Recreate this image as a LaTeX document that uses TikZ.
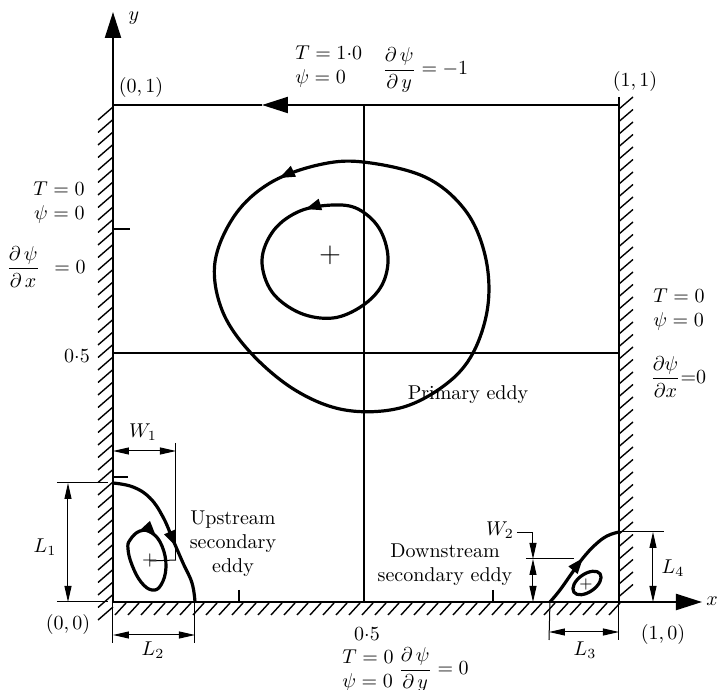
\documentclass[tikz,border=0pt]{standalone}
\usepackage{amsmath}
\usepackage{amssymb}
\usetikzlibrary{
    arrows.meta,
    decorations.markings
}
\tikzset{
    >={Triangle[length=8pt,width=3.5pt]},
    pared/.style={line width=1.1pt},
    rayado/.style={line width=0.7pt},
    media/.style={line width=0.6pt},
    linea/.style={line width=1.6pt, line join=round},
    cota/.style={line width=0.5pt},
    ejeflecha/.style={-{Triangle[length=13pt,width=8pt]}},
    flujo/.style={
        postaction={decorate},
        decoration={markings,
            mark=at position #1 with {\arrow{Triangle[length=8pt,width=5.5pt]}}}
    },
    etiqueta/.style={inner sep=1pt}
}

\begin{document}
\begin{tikzpicture}[
    x=0.5pt,
    y=-0.5pt
]
    \useasboundingbox (0,0) rectangle (720,690);

    % Esquinas y puntos
    \coordinate (o)      at (113,602);
    \coordinate (c01)    at (113,105);
    \coordinate (c11)    at (619,105);
    \coordinate (c10)    at (619,602);
    \coordinate (c11a)   at (619,97);
    \coordinate (ytip)   at (113,12);
    \coordinate (xtip)   at (702,602);
    \coordinate (tflech) at (262,105);
    \coordinate (mtop)   at (364,105);
    \coordinate (mbot)   at (364,602);
    \coordinate (mleft)  at (113,353);
    \coordinate (mright) at (619,353);

    % Rayado de las paredes
    \foreach \y in {107,119.5,...,616}
        \draw[rayado] (113,\y) -- ++(-15,13);
    \foreach \y in {109,121.5,...,603}
        \draw[rayado] (619,\y) -- ++(14,-12);
    \foreach \x in {126,139,...,620}
        \draw[rayado] (\x,603) -- ++(-11,12);

    % Paredes y ejes
    \draw[pared, ejeflecha] (o) -- (ytip);
    \draw[pared, ejeflecha] (o) -- (xtip);
    \draw[pared] (c11a) -- (c10);
    \draw[pared, ejeflecha] (c11) -- (tflech);
    \draw[pared] (tflech) -- (c01);

    % Lineas medias y marcas
    \draw[media] (mtop) -- (mbot);
    \draw[media] (mleft) -- (mright);
    \coordinate (t1a) at (113,229); \coordinate (t1b) at (130,229);
    \coordinate (t2a) at (239,590); \coordinate (t2b) at (239,602);
    \coordinate (t3a) at (493,590); \coordinate (t3b) at (493,602);
    \draw[media] (t1a) -- (t1b);
    \draw[media] (t2a) -- (t2b);
    \draw[media] (t3a) -- (t3b);

    % Remolino primario
    \draw[linea, flujo=0.05] plot[smooth cycle, tension=0.6] coordinates {
        (363,162) (318,165) (270,183) (235,215) (215,262)
        (222,310) (250,352) (295,390) (345,410) (400,408)
        (445,385) (473,353) (488,305) (485,255) (465,210)
        (425,177)};
    \draw[linea, flujo=0.075] plot[smooth cycle, tension=0.6] coordinates {
        (358,209) (333,205) (300,211) (274,230) (262,260)
        (272,292) (300,313) (333,318) (362,306) (382,285)
        (388,257) (379,228)};
    \node[etiqueta] (cp) at (330,255) {\Large$+$};

    % Remolino secundario aguas arriba
    \coordinate (u0) at (113,483);
    \coordinate (u1) at (195,602);
    \draw[linea, flujo=0.62] plot[smooth, tension=0.7] coordinates {
        (u0) (133,487) (150,498) (163,517) (173,540)
        (183,563) (192,583) (u1)};
    \draw[linea, flujo=0.12] plot[smooth cycle, tension=0.7] coordinates {
        (130,540) (140,531) (152,533) (162,546) (166,567)
        (161,585) (152,590) (141,582) (132,565) (128,549)};
    \node[etiqueta] (cu) at (150,561) {$+$};
    \coordinate (ud1) at (113,477); \coordinate (ud2) at (128,477);
    \draw[media] (ud1) -- (ud2);

    % Remolino secundario aguas abajo
    \coordinate (d0) at (550,602);
    \coordinate (d1) at (619,532);
    \draw[linea, flujo=0.55] plot[smooth, tension=0.7] coordinates {
        (d0) (560,590) (572,573) (583,558) (595,545) (607,536) (d1)};
    \draw[linea] (587,583) ellipse [x radius=16, y radius=9, rotate=35];
    \node[etiqueta] (cd) at (586,585) {\footnotesize$+$};

    % Cotas W1, L1, L2
    \coordinate (w1a) at (113,451); \coordinate (w1b) at (176,451);
    \coordinate (w1t) at (176,443); \coordinate (w1s) at (176,560);
    \draw[cota, <->] (w1a) -- (w1b);
    \draw[cota] (w1t) -- (w1s);
    \draw[cota] (cu.center) -- (w1s);
    \coordinate (l1a) at (68,483);  \coordinate (l1b) at (68,602);
    \coordinate (l1e) at (57,483);  \coordinate (l1f) at (108,483);
    \coordinate (l1g) at (57,602);  \coordinate (l1h) at (108,602);
    \draw[cota] (l1e) -- (l1f);
    \draw[cota] (l1g) -- (l1h);
    \draw[cota, <->] (l1a) -- (l1b);
    \coordinate (l2a) at (113,635); \coordinate (l2b) at (195,635);
    \coordinate (l2e) at (113,643); \coordinate (l2f) at (195,643);
    \draw[cota] (o) -- (l2e);
    \draw[cota] (u1) -- (l2f);
    \draw[cota, <->] (l2a) -- (l2b);

    % Cotas W2, L3, L4
    \coordinate (w2a) at (517,533); \coordinate (w2b) at (533,533);
    \coordinate (w2m) at (533,559); \coordinate (w2c) at (533,602);
    \coordinate (w2h) at (526,559); \coordinate (w2i) at (574,559);
    \draw[cota] (w2a) -- (w2b);
    \draw[cota, ->] (w2b) -- (w2m);
    \draw[cota, <->] (w2m) -- (w2c);
    \draw[cota] (w2h) -- (w2i);
    \coordinate (l3a) at (549,632); \coordinate (l3b) at (619,632);
    \coordinate (l3e) at (549,640); \coordinate (l3f) at (619,640);
    \draw[cota] (d0) -- (l3e);
    \draw[cota] (c10) -- (l3f);
    \draw[cota, <->] (l3a) -- (l3b);
    \coordinate (l4a) at (653,532); \coordinate (l4b) at (653,602);
    \coordinate (l4e) at (664,532);
    \draw[cota] (d1) -- (l4e);
    \draw[cota, <->] (l4a) -- (l4b);

    % Etiquetas de ejes y esquinas
    \node[etiqueta] (ylab)  at (134,18)  {$y$};
    \node[etiqueta] (xlab)  at (712,601) {$x$};
    \node[etiqueta] (lc01)  at (141,88)  {(0,\,1)};
    \node[etiqueta] (lc11)  at (635,82)  {(1,\,1)};
    \node[etiqueta] (lc00)  at (68,625)  {(0,\,0)};
    \node[etiqueta] (lc10)  at (663,635) {(1,\,0)};
    \node[etiqueta] (hleft) at (77,356)  {$0{\cdot}5$};
    \node[etiqueta] (hbot)  at (367,634) {$0{\cdot}5$};

    % Condiciones de contorno
    \node[etiqueta, anchor=west, align=left] (ctop) at (293,67)
        {$T=1{\cdot}0$\\$\psi=0$};
    \node[etiqueta, anchor=west] (dtop) at (380,70)
        {$\dfrac{\partial\,\psi}{\partial\,y}=-1$};
    \node[etiqueta, anchor=east, align=right] (cleft) at (87,203)
        {$T=0$\\$\psi=0$};
    \node[etiqueta, anchor=west] (dleft) at (4,267)
        {$\dfrac{\partial\,\psi}{\partial\,x}\;\,=0$};
    \node[etiqueta, anchor=west, align=left] (cright) at (651,310)
        {$T=0$\\$\psi=0$};
    \node[etiqueta, anchor=west] (dright) at (648,377)
        {$\dfrac{\partial\psi}{\partial x}{=}0$};
    \node[etiqueta, anchor=west, align=left] (cbot) at (340,671)
        {$T=0$\\$\psi=0$};
    \node[etiqueta, anchor=west] (dbot) at (396,670)
        {$\dfrac{\partial\,\psi}{\partial\,y}=0$};

    % Nombres de remolinos y cotas
    \node[etiqueta] (tprim) at (468,395) {Primary eddy};
    \node[etiqueta, align=center] (tup) at (233,544)
        {Upstream\\secondary\\eddy};
    \node[etiqueta, align=center] (tdown) at (445,565)
        {Downstream\\secondary eddy};
    \node[etiqueta] (lw1) at (143,432) {$W_1$};
    \node[etiqueta] (ll1) at (45,547)  {$L_1$};
    \node[etiqueta] (ll2) at (153,650) {$L_2$};
    \node[etiqueta] (ll3) at (585,650) {$L_3$};
    \node[etiqueta] (ll4) at (673,568) {$L_4$};
    \node[etiqueta] (lw2) at (500,530) {$W_2$};

\end{tikzpicture}
\end{document}
